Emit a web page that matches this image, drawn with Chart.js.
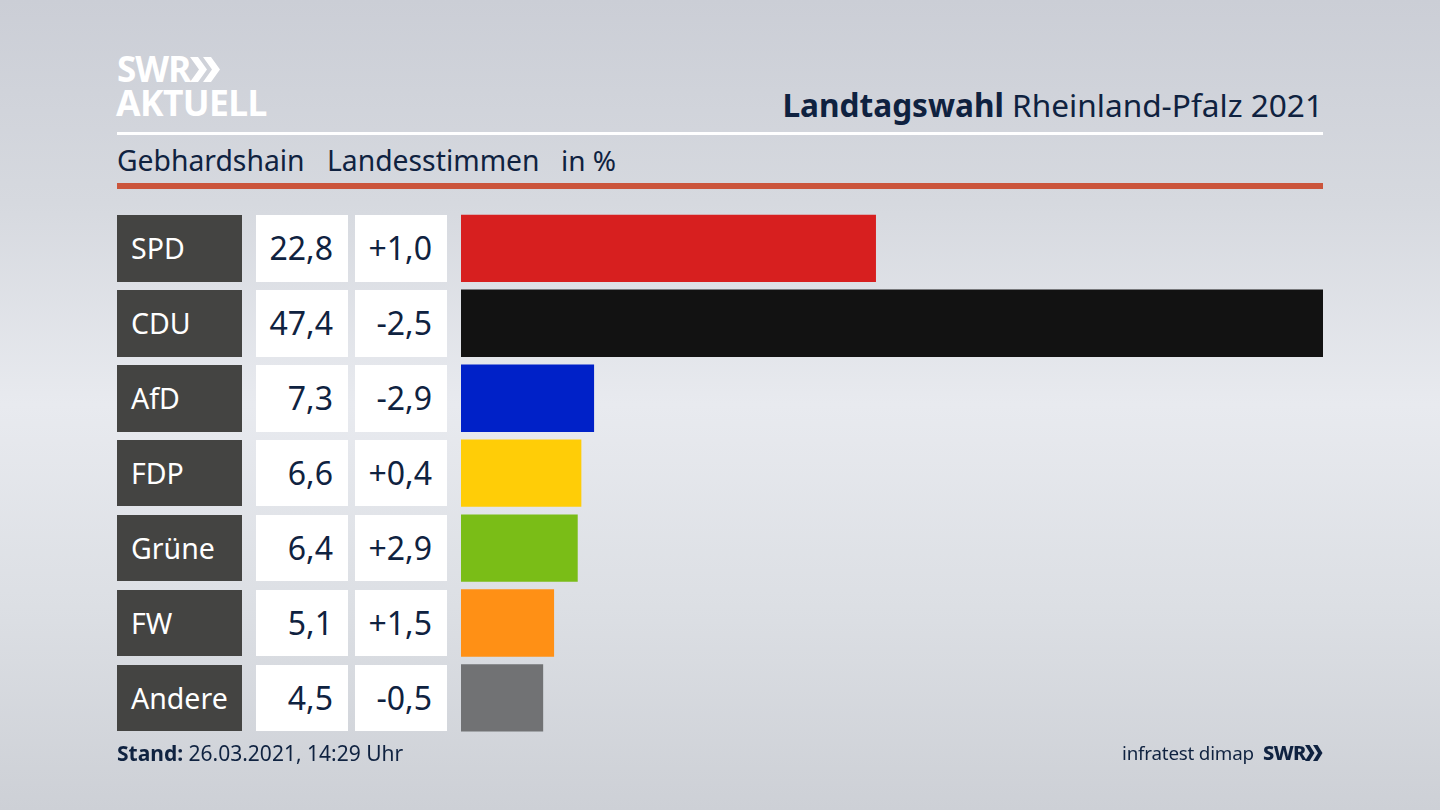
<!DOCTYPE html>
<html lang="de"><head><meta charset="utf-8">
<script src="https://cdn.jsdelivr.net/npm/chart.js@4"></script>
<style>
html,body{margin:0;padding:0;width:1440px;height:810px;overflow:hidden}
body{position:relative;background:linear-gradient(180deg,#cbced6 0%,#d6d9df 25%,#e8eaef 50%,#dcdfe4 75%,#cdd0d6 100%);font-family:"Noto Sans",sans-serif;color:#0f2240}
canvas{position:absolute;left:0;top:0}
.t{position:absolute;white-space:nowrap;line-height:1}
.rule{position:absolute;left:117px;width:1206px}
.cell{position:absolute;box-sizing:border-box;height:66.7px;line-height:66.7px;font-size:32px;white-space:nowrap}
.lab{left:117px;width:124.5px;background:#444442;color:#fff;padding-left:14px;font-size:28.5px}
.val{left:255.5px;width:92.5px;background:#fff;text-align:right;padding-right:15px}
.chg{left:354.5px;width:92.5px;background:#fff;text-align:right;padding-right:15px}
svg{position:absolute}
</style></head><body>
<div class="t" style="left:117px;top:51px;font-size:35px;font-weight:700;color:#fff;letter-spacing:-1px">SWR</div>
<svg style="left:189px;top:56px" width="32" height="27" viewBox="0 0 32 27"><path d="M1 1h8l9 12.5-9 12.5H1l9-12.5zM14 1h8l9 12.5-9 12.5h-8l9-12.5z" fill="#fff"/></svg>
<div class="t" style="left:116px;top:85px;font-size:35.5px;font-weight:700;color:#fff;letter-spacing:-.6px">AKTUELL</div>
<div class="t" id="title" style="right:117px;top:89px;font-size:31.6px"><b>Landtagswahl</b> Rheinland-Pfalz 2021</div>
<div class="rule" style="top:132px;height:3px;background:#fff"></div>
<div class="t" style="left:117px;top:146px;font-size:28.3px">Gebhardshain</div>
<div class="t" style="left:327px;top:146px;font-size:28.3px">Landesstimmen</div>
<div class="t" style="left:561px;top:146px;font-size:28px">in %</div>
<div class="rule" style="top:183px;height:6px;background:#cb553c"></div>
<div id="rows"></div>
<canvas id="c" width="1440" height="810"></canvas>
<div class="t" style="left:117px;top:743px;font-size:21px"><b>Stand:</b> 26.03.2021, 14:29 Uhr</div>
<div class="t" style="left:1122px;top:744px;font-size:18.8px;letter-spacing:-.2px">infratest dimap</div>
<div class="t" style="left:1263px;top:743px;font-size:20px;font-weight:800;letter-spacing:-.6px">SWR</div>
<svg style="left:1305px;top:745px" width="18" height="16" viewBox="0 0 18 16"><path d="M0 0h4.5l5 8-5 8H0l5-8zM8 0h4.5l5 8-5 8H8l5-8z" fill="#0f2240"/></svg>
<script>
const parties = ["SPD","CDU","AfD","FDP","Grüne","FW","Andere"];
const shares = [22.8,47.4,7.3,6.6,6.4,5.1,4.5];
const changes = ["+1,0","-2,5","-2,9","+0,4","+2,9","+1,5","-0,5"];
const colors = ["#d71f1f","#121212","#0021c8","#ffcd07","#7abd17","#ff9015","#717274"];
const rowTop = 215, rowPitch = 74.93;
const rows = document.getElementById("rows");
parties.forEach((p,i)=>{
  const top = rowTop + i*rowPitch;
  const v = shares[i].toFixed(1).replace(".",",");
  [["lab",p],["val",v],["chg",changes[i]]].forEach(([k,s])=>{
    const d=document.createElement("div");
    d.className="cell "+k; d.style.top=top+"px"; d.textContent=s; rows.appendChild(d);
  });
});
new Chart(document.getElementById("c"),{
  type:"bar",
  data:{labels:parties,datasets:[{data:shares,backgroundColor:colors,borderWidth:0,barThickness:66.7}]},
  options:{
    indexAxis:"y",responsive:false,animation:false,devicePixelRatio:1,
    layout:{padding:{left:461,right:117,top:210.9,bottom:74.6}},
    plugins:{legend:{display:false},tooltip:{enabled:false},title:{display:false}},
    scales:{
      x:{display:false,min:0,max:47.4},
      y:{display:false,grid:{display:false}}
    }
  }
});
</script>
</body></html>
